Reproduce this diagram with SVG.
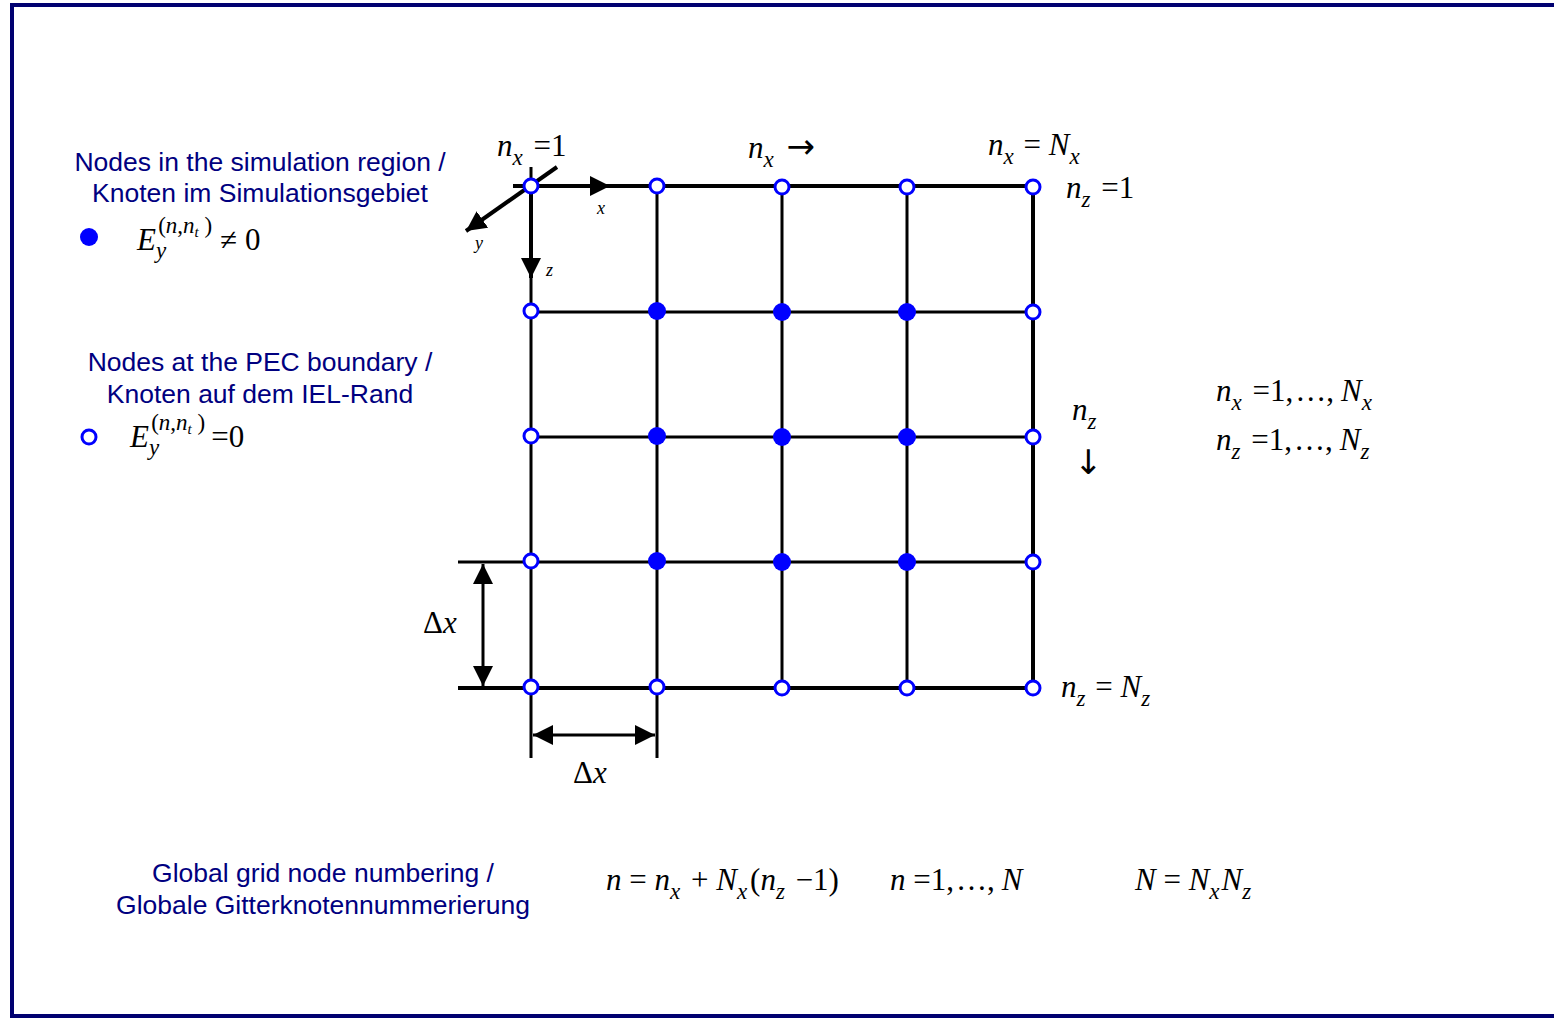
<svg xmlns="http://www.w3.org/2000/svg" width="1554" height="1032" viewBox="0 0 1554 1032">
<defs>
<style>
.frame{fill:none;stroke:#000070;stroke-width:4}
.g{stroke:#000;stroke-width:3;fill:none}
.gt{stroke:#000;stroke-width:4;fill:none}
.open{fill:#fff;stroke:#0000ff;stroke-width:3}
.full{fill:#0000ff}
.lbl{font-family:"Liberation Sans",Arial,sans-serif;font-size:26.5px;fill:#000080;text-anchor:middle}
.m{font-family:"Liberation Serif","Times New Roman",serif;font-size:31px;fill:#000}
.i{font-style:italic}
.s{font-size:23px}
.ar{font-family:"DejaVu Sans",sans-serif;font-size:34px}
.ax{font-family:"Liberation Serif","Times New Roman",serif;font-style:italic;font-size:18px;fill:#000}
</style>
<marker id="ah" viewBox="0 0 10 10" refX="10" refY="5" markerWidth="20" markerHeight="20" markerUnits="userSpaceOnUse" orient="auto-start-reverse">
<path d="M0,0 L10,5 L0,10 Z" fill="#000"/>
</marker>
</defs>
<rect x="12" y="5" width="1560" height="1011" class="frame"/>

<g id="connectors">
<line x1="513" y1="186" x2="1033" y2="186" class="gt"/>
<line x1="531" y1="312" x2="1033" y2="312" class="g"/>
<line x1="531" y1="437" x2="1033" y2="437" class="g"/>
<line x1="458" y1="562" x2="1033" y2="562" class="g"/>
<line x1="458" y1="688" x2="1033" y2="688" class="gt"/>
<line x1="531" y1="167" x2="531" y2="758" class="g"/>
<line x1="657" y1="186" x2="657" y2="758" class="g"/>
<line x1="782" y1="186" x2="782" y2="688" class="g"/>
<line x1="907" y1="186" x2="907" y2="688" class="g"/>
<line x1="1033" y1="186" x2="1033" y2="688" class="gt"/>
<line x1="531" y1="186" x2="610" y2="186" class="gt" marker-end="url(#ah)"/>
<line x1="531" y1="186" x2="531" y2="278" class="gt" marker-end="url(#ah)"/>
<line x1="557" y1="167" x2="466" y2="231" class="gt" marker-end="url(#ah)"/>
<line x1="483" y1="564" x2="483" y2="686" class="g" marker-start="url(#ah)" marker-end="url(#ah)"/>
<line x1="533" y1="735" x2="655" y2="735" class="g" marker-start="url(#ah)" marker-end="url(#ah)"/>
</g>

<g id="nodes">
<g id="row1">
<circle cx="531" cy="186" r="7" class="open"/>
<circle cx="657" cy="186" r="7" class="open"/>
<circle cx="782" cy="187" r="7" class="open"/>
<circle cx="907" cy="187" r="7" class="open"/>
<circle cx="1033" cy="187" r="7" class="open"/>
</g>
<g id="row2">
<circle cx="531" cy="311" r="7" class="open"/>
<circle cx="657" cy="311" r="9" class="full"/>
<circle cx="782" cy="312" r="9" class="full"/>
<circle cx="907" cy="312" r="9" class="full"/>
<circle cx="1033" cy="312" r="7" class="open"/>
</g>
<g id="row3">
<circle cx="531" cy="436" r="7" class="open"/>
<circle cx="657" cy="436" r="9" class="full"/>
<circle cx="782" cy="437" r="9" class="full"/>
<circle cx="907" cy="437" r="9" class="full"/>
<circle cx="1033" cy="437" r="7" class="open"/>
</g>
<g id="row4">
<circle cx="531" cy="561" r="7" class="open"/>
<circle cx="657" cy="561" r="9" class="full"/>
<circle cx="782" cy="562" r="9" class="full"/>
<circle cx="907" cy="562" r="9" class="full"/>
<circle cx="1033" cy="562" r="7" class="open"/>
</g>
<g id="row5">
<circle cx="531" cy="687" r="7" class="open"/>
<circle cx="657" cy="687" r="7" class="open"/>
<circle cx="782" cy="688" r="7" class="open"/>
<circle cx="907" cy="688" r="7" class="open"/>
<circle cx="1033" cy="688" r="7" class="open"/>
</g>
</g>

<g id="axis-labels">
<text x="597" y="214" class="ax">x</text>
<text x="475" y="249" class="ax">y</text>
<text x="546" y="276" class="ax">z</text>
</g>

<g id="grid-labels">
<text x="497" y="156" class="m"><tspan class="i">n</tspan><tspan class="i s" dy="9">x</tspan><tspan dx="3" dy="-9"> =1</tspan></text>
<text x="748" y="158" class="m"><tspan class="i">n</tspan><tspan class="i s" dy="9">x</tspan><tspan class="ar" dx="2" dy="-9"> →</tspan></text>
<text x="988" y="155" class="m"><tspan class="i">n</tspan><tspan class="i s" dy="9">x</tspan><tspan dx="2" dy="-9"> = </tspan><tspan class="i">N</tspan><tspan class="i s" dy="9">x</tspan></text>
<text x="1066" y="198" class="m"><tspan class="i">n</tspan><tspan class="i s" dy="9">z</tspan><tspan dx="3" dy="-9"> =1</tspan></text>
<text x="1072" y="420" class="m"><tspan class="i">n</tspan><tspan class="i s" dy="9">z</tspan></text>
<text x="1074" y="474" class="m ar">↓</text>
<text x="1061" y="697" class="m"><tspan class="i">n</tspan><tspan class="i s" dy="9">z</tspan><tspan dx="2" dy="-9"> = </tspan><tspan class="i">N</tspan><tspan class="i s" dy="9">z</tspan></text>
<text x="1216" y="401" class="m"><tspan class="i">n</tspan><tspan class="i s" dy="9">x</tspan><tspan dx="3" dy="-9"> =1,</tspan><tspan dx="2">…,</tspan><tspan dx="7" class="i">N</tspan><tspan class="i s" dy="9">x</tspan></text>
<text x="1216" y="450" class="m"><tspan class="i">n</tspan><tspan class="i s" dy="9">z</tspan><tspan dx="3" dy="-9"> =1,</tspan><tspan dx="2">…,</tspan><tspan dx="7" class="i">N</tspan><tspan class="i s" dy="9">z</tspan></text>
<text x="423" y="633" class="m">Δ<tspan class="i">x</tspan></text>
<text x="573" y="783" class="m">Δ<tspan class="i">x</tspan></text>
</g>

<g id="legend-inner">
<text x="260" y="171" class="lbl">Nodes in the simulation region /</text>
<text x="260" y="202" class="lbl">Knoten im Simulationsgebiet</text>
<circle cx="89" cy="237" r="9" class="full"/>
<text x="137" y="250" class="m"><tspan class="i">E</tspan><tspan class="i s" dy="8">y</tspan><tspan class="s" dx="-8" dy="-25">(</tspan><tspan class="i s">n</tspan><tspan class="s">,</tspan><tspan class="i s">n</tspan><tspan class="i" font-size="15" dy="4">t</tspan><tspan class="s" dy="-4"> )</tspan><tspan dx="8" dy="17">≠ 0</tspan></text>
</g>

<g id="legend-boundary">
<text x="260" y="371" class="lbl">Nodes at the PEC boundary /</text>
<text x="260" y="403" class="lbl">Knoten auf dem IEL-Rand</text>
<circle cx="89" cy="437" r="7" class="open"/>
<text x="130" y="447" class="m"><tspan class="i">E</tspan><tspan class="i s" dy="8">y</tspan><tspan class="s" dx="-8" dy="-25">(</tspan><tspan class="i s">n</tspan><tspan class="s">,</tspan><tspan class="i s">n</tspan><tspan class="i" font-size="15" dy="4">t</tspan><tspan class="s" dy="-4"> )</tspan><tspan dx="6" dy="17">=0</tspan></text>
</g>

<g id="numbering">
<text x="323" y="882" class="lbl">Global grid node numbering /</text>
<text x="323" y="914" class="lbl">Globale Gitterknotennummerierung</text>
<text x="606" y="890" class="m"><tspan class="i">n</tspan> = <tspan class="i">n</tspan><tspan class="i s" dy="9">x</tspan><tspan dx="3" dy="-9"> + </tspan><tspan class="i">N</tspan><tspan class="i s" dy="9">x</tspan><tspan dx="3" dy="-9">(</tspan><tspan class="i">n</tspan><tspan class="i s" dy="9">z</tspan><tspan dx="3" dy="-9"> −1)</tspan></text>
<text x="890" y="890" class="m"><tspan class="i">n</tspan> =1,<tspan dx="2">…,</tspan><tspan dx="7" class="i">N</tspan></text>
<text x="1135" y="890" class="m"><tspan class="i">N</tspan> = <tspan class="i">N</tspan><tspan class="i s" dy="9">x</tspan><tspan class="i" dx="2" dy="-9">N</tspan><tspan class="i s" dy="9">z</tspan></text>
</g>
</svg>
